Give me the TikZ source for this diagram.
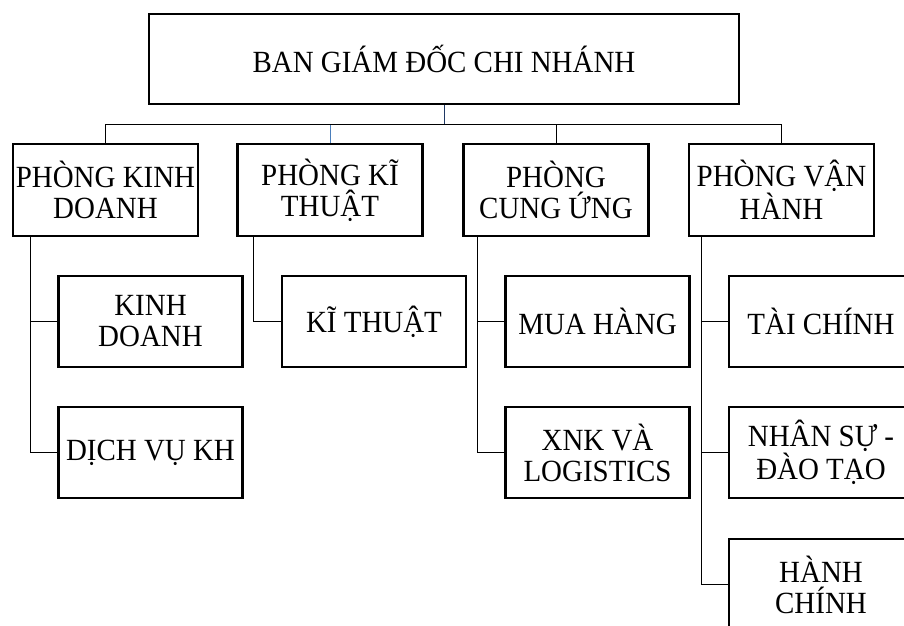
\documentclass[tikz,border=0pt]{standalone}
\usepackage{fontspec}
\setmainfont{Liberation Serif}[FakeStretch=0.94]
\usepackage{tikz}
\definecolor{xanhdam}{RGB}{31,56,100}
\definecolor{xanhnhat}{RGB}{74,126,187}

\begin{document}
\begin{tikzpicture}[x=1pt, y=-1pt,
	khung/.style={draw=black, line width=2.3pt, align=center, inner sep=1pt, font=\fontsize{30.8}{31}\selectfont},
	bgd/.style={khung, minimum width=590pt, minimum height=90pt},
	phong/.style={khung, minimum width=185pt, minimum height=92pt},
	bophan/.style={khung, minimum width=184pt, minimum height=91pt},
	noi/.style={black, line width=0.9pt}]
				\useasboundingbox (0,0) rectangle (904,625);
				\clip (0,0) rectangle (904,625);
				%
				\node[bgd] (bgd) at (444,59) {BAN GIÁM ĐỐC CHI NHÁNH};
				%
				\node[phong] (pkd) at (105.5,190) {PHÒNG KINH\\DOANH};
				\node[phong] (pkt) at (330,190) {PHÒNG KĨ\\THUẬT};
				\node[phong] (pcu) at (556,190) {PHÒNG\\CUNG ỨNG};
				\node[phong] (pvh) at (781.5,190) {PHÒNG VẬN\\HÀNH};
				%
				\node[bophan] (kd) at (150.5,321.5) {KINH\\DOANH};
				\node[bophan] (dv) at (150.5,452.5) {DỊCH VỤ KH};
				\node[bophan] (kt) at (374,321.5) {KĨ THUẬT};
				\node[bophan] (mh) at (597.5,321.5) {MUA HÀNG};
				\node[bophan] (xnk) at (597.5,452.5) {XNK VÀ\\LOGISTICS};
				\node[bophan] (tc) at (821,321.5) {TÀI CHÍNH};
				\node[bophan] (ns) at (821,452.5) {NHÂN SỰ -\\ĐÀO TẠO};
				\node[bophan] (hc) at (821,584.5) {HÀNH\\CHÍNH};
				%
				\coordinate (truc) at (bgd.south |- 0,124);
				\draw [noi, xanhdam] (bgd.south) -- (truc);
				\draw [noi, xanhnhat] (truc) -| (pkt.north);
				\draw [noi] (truc) -| (pkd.north);
				\draw [noi] (truc) -| (pcu.north);
				\draw [noi] (truc) -| (pvh.north);
				%
				\coordinate (n1) at ([xshift=-27pt]dv.west);
				\draw [noi] (pkd.south -| n1) -- (n1) -- (dv.west);
				\draw [noi] (kd.west -| n1) -- (kd.west);
				%
				\coordinate (n2) at ([xshift=-27pt]kt.west);
				\draw [noi] (pkt.south -| n2) -- (n2) -- (kt.west);
				%
				\coordinate (n3) at ([xshift=-27pt]xnk.west);
				\draw [noi] (pcu.south -| n3) -- (n3) -- (xnk.west);
				\draw [noi] (mh.west -| n3) -- (mh.west);
				%
				\coordinate (n4) at ([xshift=-26pt]hc.west);
				\draw [noi] (pvh.south -| n4) -- (n4) -- (hc.west);
				\draw [noi] (tc.west -| n4) -- (tc.west);
				\draw [noi] (ns.west -| n4) -- (ns.west);
		
			\end{tikzpicture}
\end{document}
